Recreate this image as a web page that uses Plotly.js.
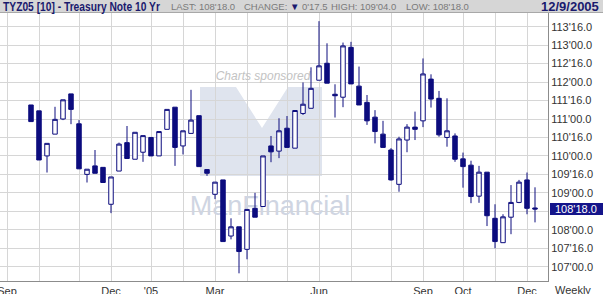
<!DOCTYPE html>
<html>
<head>
<meta charset="utf-8">
<script src="https://cdn.plot.ly/plotly-3.0.1.min.js"></script>
<style>
  html, body { margin: 0; padding: 0; background: #ffffff; }
  #chart { width: 603px; height: 294px; }
</style>
</head>
<body>
<div id="chart"></div>
<script>
// ---- Data: weekly TYZ05 (10-yr T-Note, Dec 2005) candles ----
var weekDates = [
  '2004-09-24','2004-10-01','2004-10-08','2004-10-15','2004-10-22','2004-10-29',
  '2004-11-05','2004-11-12','2004-11-19','2004-11-26','2004-12-03','2004-12-10',
  '2004-12-17','2004-12-24','2004-12-31','2005-01-07','2005-01-14','2005-01-21',
  '2005-01-28','2005-02-04','2005-02-11','2005-02-18','2005-02-25','2005-03-04',
  '2005-03-11','2005-03-18','2005-03-25','2005-04-01','2005-04-08','2005-04-15',
  '2005-04-22','2005-04-29','2005-05-06','2005-05-13','2005-05-20','2005-05-27',
  '2005-06-03','2005-06-10','2005-06-17','2005-06-24','2005-07-01','2005-07-08',
  '2005-07-15','2005-07-22','2005-07-29','2005-08-05','2005-08-12','2005-08-19',
  '2005-08-26','2005-09-02','2005-09-09','2005-09-16','2005-09-23','2005-09-30',
  '2005-10-07','2005-10-14','2005-10-21','2005-10-28','2005-11-04','2005-11-11',
  '2005-11-18','2005-11-25','2005-12-02','2005-12-09'
];
var openPx = [
  111.38,111.22,110.00,110.59,111.00,111.68,
  110.87,109.50,109.73,109.69,108.69,109.59,
  110.36,109.91,110.10,110.50,110.00,110.72,
  111.32,110.27,110.61,111.09,109.63,108.96,
  109.35,107.83,108.08,107.47,108.58,108.63,
  110.27,110.13,110.75,110.21,111.15,111.29,
  112.05,112.51,111.67,111.59,112.94,111.89,
  111.45,111.05,110.59,110.16,109.23,110.43,
  110.78,110.95,112.08,111.56,110.50,110.54,
  109.92,109.75,108.91,109.56,108.31,107.65,
  108.34,108.74,109.35,108.59
];
var highPx = [
  111.38,111.22,110.34,111.33,111.52,111.68,
  110.97,109.64,110.16,109.69,109.43,110.36,
  110.81,110.64,110.55,110.50,110.66,111.26,
  111.32,110.68,111.79,111.09,109.64,109.29,
  109.35,108.31,108.08,108.55,109.00,110.00,
  110.54,111.02,111.08,111.23,111.99,112.40,
  113.65,113.05,111.94,113.07,113.09,112.42,
  111.65,111.24,110.95,110.21,110.52,110.86,
  111.20,112.64,112.21,111.76,111.56,110.61,
  110.09,109.87,109.73,109.56,108.69,108.42,
  109.21,109.35,109.55,109.15
];
var lowPx = [
  110.93,109.89,109.55,110.59,110.97,110.86,
  109.65,109.28,109.53,109.28,108.45,109.59,
  109.93,109.91,109.84,110.00,110.00,110.72,
  109.73,110.04,110.61,109.71,109.46,108.83,
  107.68,107.74,106.82,107.20,108.34,108.63,
  109.83,109.94,110.23,110.21,111.11,111.29,
  112.05,111.97,111.04,111.32,111.95,111.38,
  110.84,110.34,110.23,109.33,109.03,110.10,
  110.43,110.78,111.31,110.52,110.25,109.84,
  109.14,108.72,108.73,108.10,107.50,107.65,
  107.88,108.72,108.42,108.20
];
var closePx = [
  110.93,109.89,110.34,110.99,111.52,111.26,
  109.65,109.64,109.53,109.28,109.43,110.32,
  109.93,110.64,110.55,110.00,110.66,111.26,
  110.23,110.68,110.97,109.71,109.53,109.29,
  107.68,108.08,107.41,108.55,108.34,110.00,
  110.11,110.68,110.23,111.23,111.40,111.83,
  112.44,111.97,111.63,112.98,111.95,111.38,
  110.95,110.66,110.23,109.35,110.46,110.78,
  110.72,112.22,111.54,110.57,110.68,109.91,
  109.71,108.90,109.56,108.38,107.68,108.35,
  108.74,109.29,108.58,108.5625
];
// month gridlines (first weekly bar of each month) and their labels
var monthTicks = [
  '2004-09-03','2004-10-01','2004-11-05','2004-12-03','2005-01-07','2005-02-04',
  '2005-03-04','2005-04-01','2005-05-06','2005-06-03','2005-07-01','2005-08-05',
  '2005-09-02','2005-10-07','2005-11-04','2005-12-02'
];
var monthLabels = ['Sep','','','Dec',"'05",'','Mar','','','Jun','','','Sep','Oct','','Dec'];
// price ticks in 32nds
var priceTicks = [107.0,107.5,108.0,108.5,109.0,109.5,110.0,110.5,111.0,111.5,112.0,112.5,113.0,113.5];
var priceLabels = ["107'00.0","107'16.0","108'00.0","","109'00.0","109'16.0","110'00.0","110'16.0",
                   "111'00.0","111'16.0","112'00.0","112'16.0","113'00.0","113'16.0"];
var lastLabel = "108'18.0";
var lastPrice = 108.5625;

// ---- geometry helpers (pixel -> paper) ----
var PW = 548, PT = 13, PB = 281, PH = PB - PT;
function px(x){ return x / PW; }
function py(y){ return (PB - y) / PH; }

var NAVY = '#0c0c7e';
var sans = 'Liberation Sans, Arial, sans-serif';

var watermark = {
  type: 'scatter', mode: 'text', xaxis: 'x', yaxis: 'y',
  x: [263, 270], y: [77, 208],
  text: ['Charts sponsored', 'ManFinancial'],
  textposition: 'middle center',
  textfont: { family: sans, size: [12, 27], color: ['#c3c3c3', '#cfd5e2'], style: ['italic','normal'] },
  hoverinfo: 'skip', showlegend: false, cliponaxis: false
};

var candles = {
  type: 'candlestick', xaxis: 'x2', yaxis: 'y2',
  x: weekDates, open: openPx, high: highPx, low: lowPx, close: closePx,
  increasing: { line: { color: NAVY, width: 1 }, fillcolor: '#ffffff' },
  decreasing: { line: { color: NAVY, width: 1 }, fillcolor: NAVY },
  whiskerwidth: 0, hoverinfo: 'none', showlegend: false
};

var layout = {
  width: 603, height: 294,
  margin: { l: 0, r: 55, t: 13, b: 13, pad: 0 },
  paper_bgcolor: '#ffffff', plot_bgcolor: '#ffffff',
  showlegend: false, boxgap: 0.2,
  font: { family: sans, size: 11, color: '#333333' },
  xaxis: { range: [0, PW], visible: false, fixedrange: true },
  yaxis: { range: [PB, PT], visible: false, fixedrange: true },
  xaxis2: {
    type: 'date', overlaying: 'x', anchor: 'y2',
    range: ['2004-08-27 21:00', '2005-12-20 09:00'],
    tickmode: 'array', tickvals: monthTicks, ticktext: monthLabels,
    showgrid: true, gridcolor: '#d6d6d6', gridwidth: 1,
    showline: true, linecolor: '#8c8c8c', linewidth: 1,
    ticks: '', zeroline: false, ticklabeloverflow: 'allow',
    tickfont: { family: sans, size: 11, color: '#333333' },
    rangeslider: { visible: false }, fixedrange: true
  },
  yaxis2: {
    overlaying: 'y', anchor: 'x2', side: 'right',
    range: [106.612, 113.871],
    tickmode: 'array', tickvals: priceTicks, ticktext: priceLabels,
    showgrid: true, gridcolor: '#d6d6d6', gridwidth: 1,
    showline: true, linecolor: '#8c8c8c', linewidth: 1,
    ticks: '', zeroline: false,
    tickfont: { family: sans, size: 11, color: '#333333' },
    fixedrange: true
  },
  shapes: [
    // header band
    { type: 'rect', xref: 'paper', yref: 'paper', x0: px(0), x1: px(603), y0: py(12), y1: py(0),
      fillcolor: '#d6d6d6', line: { width: 0 }, layer: 'above' },
    { type: 'line', xref: 'paper', yref: 'paper', x0: px(0), x1: px(603), y0: py(12.5), y1: py(12.5),
      line: { color: '#a8a8a8', width: 1 }, layer: 'above' },
    // Man Financial logo block (watermark)
    { type: 'path', xref: 'paper', yref: 'paper', layer: 'below',
      path: 'M ' + px(200) + ' ' + py(87) + ' L ' + px(236) + ' ' + py(87) + ' L ' + px(262) + ' ' + py(128) +
            ' L ' + px(288) + ' ' + py(87) + ' L ' + px(322) + ' ' + py(87) + ' L ' + px(322) + ' ' + py(176) +
            ' L ' + px(200) + ' ' + py(176) + ' Z',
      fillcolor: '#dfe4ee', line: { width: 0 } },
    // last price marker box
    { type: 'rect', xref: 'paper', yref: 'paper', x0: px(550), x1: px(603), y0: py(215), y1: py(203),
      fillcolor: '#14148a', line: { width: 0 }, layer: 'above' }
  ],
  annotations: [
    { xref: 'paper', yref: 'paper', x: px(1), y: py(6.5), xanchor: 'left', yanchor: 'middle', showarrow: false,
      text: '<b>TYZ05 [10] - Treasury Note 10 Yr</b>', font: { family: sans, size: 13, color: '#1a1a6e' } },
    { xref: 'paper', yref: 'paper', x: px(169), y: py(6.5), xanchor: 'left', yanchor: 'middle', showarrow: false,
      text: "LAST: 108'18.0", font: { family: sans, size: 9.5, color: '#7a7a7a' } },
    { xref: 'paper', yref: 'paper', x: px(242), y: py(6.5), xanchor: 'left', yanchor: 'middle', showarrow: false,
      text: "CHANGE: <span style=\"color:#1a1a6e\">▼</span> 0'17.5", font: { family: sans, size: 9.5, color: '#7a7a7a' } },
    { xref: 'paper', yref: 'paper', x: px(329), y: py(6.5), xanchor: 'left', yanchor: 'middle', showarrow: false,
      text: "HIGH: 109'04.0", font: { family: sans, size: 9.5, color: '#7a7a7a' } },
    { xref: 'paper', yref: 'paper', x: px(404), y: py(6.5), xanchor: 'left', yanchor: 'middle', showarrow: false,
      text: "LOW: 108'18.0", font: { family: sans, size: 9.5, color: '#7a7a7a' } },
    { xref: 'paper', yref: 'paper', x: px(601), y: py(6.5), xanchor: 'right', yanchor: 'middle', showarrow: false,
      text: '<b>12/9/2005</b>', font: { family: sans, size: 13, color: '#1a1a6e' } },
    { xref: 'paper', yref: 'y2', x: px(553), y: lastPrice, xanchor: 'left', yanchor: 'middle', showarrow: false,
      text: lastLabel, font: { family: sans, size: 11, color: '#ffffff' } },
    { xref: 'paper', yref: 'paper', x: px(553), y: py(290), xanchor: 'left', yanchor: 'middle', showarrow: false,
      text: 'Weekly', font: { family: sans, size: 11, color: '#333333' } }
  ]
};

Plotly.newPlot('chart', [watermark, candles], layout, { staticPlot: true, displayModeBar: false }).then(function(gd){
  // condense the bold header title to the narrow width used in the original
  var nodes = gd.querySelectorAll('.annotation-text');
  for (var i = 0; i < nodes.length; i++) {
    var el = nodes[i];
    if (el.textContent.indexOf('TYZ05') === 0) {
      var bb = el.getBBox();
      var s = 157 / bb.width;
      var x0 = bb.x;
      el.setAttribute('transform', 'translate(' + x0 + ',0) scale(' + s + ',1) translate(' + (-x0) + ',0)');
    }
  }
});
</script>
</body>
</html>
